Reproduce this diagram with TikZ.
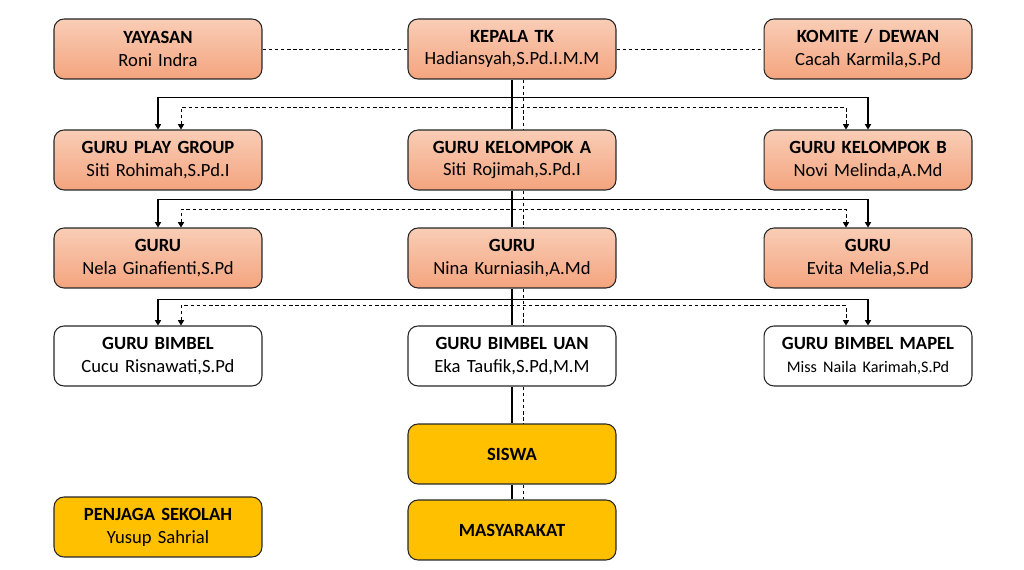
\documentclass[tikz,border=0pt]{standalone}
\usepackage{fontspec}
\setmainfont{Carlito}
\usetikzlibrary{arrows.meta}
\definecolor{salmonTop}{HTML}{F9CDB6}
\definecolor{salmonBot}{HTML}{F4A47E}
\definecolor{emas}{HTML}{FFC000}
\tikzset{
  box/.style={draw=black!85,line width=0.6pt,rounded corners=0.2cm,minimum width=4.16cm,
    minimum height=1.2cm,text width=4.1cm,align=center,inner sep=0pt,
    font=\fontsize{10.6}{13}\selectfont},
  staf/.style={box,top color=salmonTop,bottom color=salmonBot},
  kuning/.style={box,fill=emas},
  putih/.style={box,fill=white},
  jalur/.style={line width=0.6pt},
  putus/.style={line width=0.5pt,dash pattern=on 2pt off 1.5pt},
  ujung/.style={{Triangle[length=3pt,width=3.5pt]}-{Triangle[length=3pt,width=3.5pt]}},
}

\begin{document}
\begin{tikzpicture}[x=0.02cm,y=-0.02cm]
      \useasboundingbox (0,0) rectangle (1024,570);
      \node[staf](yys) at (158,49) {\textbf{YAYASAN}\\Roni Indra};
      \node[staf](kep) at (512,49) {\textbf{KEPALA TK}\\Hadiansyah,S.Pd.I.M.M};
      \node[staf](kom) at (868,49) {\textbf{KOMITE / DEWAN}\\Cacah Karmila,S.Pd};
      \node[staf](pg) at (158,160) {\textbf{GURU PLAY GROUP}\\Siti Rohimah,S.Pd.I};
      \node[staf](ka) at (512,160) {\textbf{GURU KELOMPOK A}\\Siti Rojimah,S.Pd.I};
      \node[staf](kb) at (868,160) {\textbf{GURU KELOMPOK B}\\Novi Melinda,A.Md};
      \node[staf](g1) at (158,258) {\textbf{GURU}\\Nela Ginafienti,S.Pd};
      \node[staf](g2) at (512,258) {\textbf{GURU}\\Nina Kurniasih,A.Md};
      \node[staf](g3) at (868,258) {\textbf{GURU}\\Evita Melia,S.Pd};
      \node[putih](bb) at (158,356) {\textbf{GURU BIMBEL}\\Cucu Risnawati,S.Pd};
      \node[putih](bu) at (512,356) {\textbf{GURU BIMBEL UAN}\\Eka Taufik,S.Pd,M.M};
      \node[putih](bm) at (868,356) {\textbf{GURU BIMBEL MAPEL}\\{\fontsize{9.2}{13}\selectfont Miss Naila Karimah,S.Pd}};
      \node[kuning](sis) at (512,454) {\textbf{SISWA}};
      \node[kuning](mas) at (512,530) {\textbf{MASYARAKAT}};
      \node[kuning](pjg) at (158,527) {\textbf{PENJAGA SEKOLAH}\\Yusup Sahrial};
      % garis koordinasi
      \draw[putus] (yys.east) -- (kep.west);
      \draw[putus] (kep.east) -- (kom.west);
      % garis tengah
      \foreach \a/\b in {kep/ka,ka/g2,g2/bu,bu/sis,sis/mas} {
        \draw[jalur] (\a.south) -- (\b.north);
        \draw[putus] ([xshift=0.22cm]\a.south) -- ([xshift=0.22cm]\b.north);
      }
      % cabang kiri-kanan
      \draw[jalur,ujung] (pg.north) -- ++(0,-32) -| (kb.north);
      \draw[putus,ujung] ([xshift=0.46cm]pg.north) -- ++(0,-22) -| ([xshift=-0.44cm]kb.north);
      \draw[jalur,ujung] (g1.north) -- ++(0,-28) -| (g3.north);
      \draw[putus,ujung] ([xshift=0.46cm]g1.north) -- ++(0,-18) -| ([xshift=-0.44cm]g3.north);
      \draw[jalur,ujung] (bb.north) -- ++(0,-26) -| (bm.north);
      \draw[putus,ujung] ([xshift=0.46cm]bb.north) -- ++(0,-20) -| ([xshift=-0.44cm]bm.north);
    \end{tikzpicture}
\end{document}
